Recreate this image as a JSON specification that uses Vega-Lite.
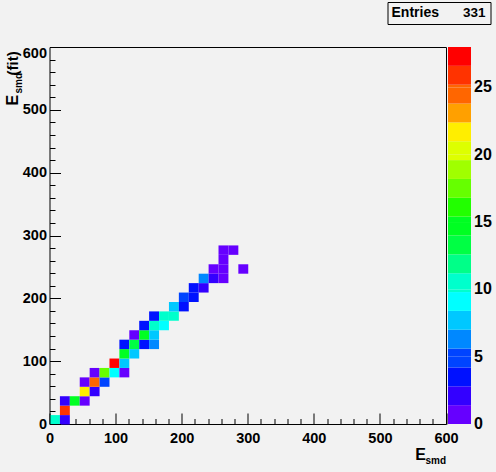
{
  "$schema": "https://vega.github.io/schema/vega-lite/v6.json",
  "width": 396.5,
  "height": 377,
  "autosize": {"type": "none"},
  "padding": {"left": 49.5, "top": 47, "right": 50, "bottom": 48},
  "background": "#f2f2f2",
  "config": {
    "view": {"stroke": "black", "strokeWidth": 1, "fill": "#f2f2f2"},
    "axis": {"labelFont": "Liberation Sans", "labelFontWeight": "bold", "labelFontSize": 14, "labelColor": "black", "titleFont": "Liberation Sans", "titleColor": "black", "titleFontWeight": "bold", "grid": false, "domain": false, "tickColor": "black"}
  },
  "data": {"values": [
    {"x0": 0, "x1": 15, "y0": 0, "y1": 15, "n": 10},
    {"x0": 15, "x1": 30, "y0": 0, "y1": 15, "n": 2},
    {"x0": 15, "x1": 30, "y0": 15, "y1": 30, "n": 26},
    {"x0": 15, "x1": 30, "y0": 30, "y1": 45, "n": 2},
    {"x0": 30, "x1": 45, "y0": 30, "y1": 45, "n": 15},
    {"x0": 45, "x1": 60, "y0": 30, "y1": 45, "n": 1},
    {"x0": 45, "x1": 60, "y0": 45, "y1": 60, "n": 21},
    {"x0": 60, "x1": 75, "y0": 45, "y1": 60, "n": 2},
    {"x0": 45, "x1": 60, "y0": 60, "y1": 75, "n": 1},
    {"x0": 60, "x1": 75, "y0": 60, "y1": 75, "n": 24},
    {"x0": 75, "x1": 90, "y0": 60, "y1": 75, "n": 5},
    {"x0": 60, "x1": 75, "y0": 75, "y1": 90, "n": 1},
    {"x0": 75, "x1": 90, "y0": 75, "y1": 90, "n": 17},
    {"x0": 90, "x1": 105, "y0": 75, "y1": 90, "n": 9},
    {"x0": 105, "x1": 120, "y0": 75, "y1": 90, "n": 1},
    {"x0": 90, "x1": 105, "y0": 90, "y1": 105, "n": 27},
    {"x0": 105, "x1": 120, "y0": 90, "y1": 105, "n": 7},
    {"x0": 105, "x1": 120, "y0": 105, "y1": 120, "n": 14},
    {"x0": 120, "x1": 135, "y0": 105, "y1": 120, "n": 7},
    {"x0": 105, "x1": 120, "y0": 120, "y1": 135, "n": 3},
    {"x0": 120, "x1": 135, "y0": 120, "y1": 135, "n": 13},
    {"x0": 135, "x1": 150, "y0": 120, "y1": 135, "n": 3},
    {"x0": 150, "x1": 165, "y0": 120, "y1": 135, "n": 6},
    {"x0": 120, "x1": 135, "y0": 135, "y1": 150, "n": 1},
    {"x0": 135, "x1": 150, "y0": 135, "y1": 150, "n": 14},
    {"x0": 150, "x1": 165, "y0": 135, "y1": 150, "n": 7},
    {"x0": 135, "x1": 150, "y0": 150, "y1": 165, "n": 3},
    {"x0": 150, "x1": 165, "y0": 150, "y1": 165, "n": 10},
    {"x0": 165, "x1": 180, "y0": 150, "y1": 165, "n": 9},
    {"x0": 150, "x1": 165, "y0": 165, "y1": 180, "n": 3},
    {"x0": 165, "x1": 180, "y0": 165, "y1": 180, "n": 10},
    {"x0": 180, "x1": 195, "y0": 165, "y1": 180, "n": 11},
    {"x0": 180, "x1": 195, "y0": 180, "y1": 195, "n": 7},
    {"x0": 195, "x1": 210, "y0": 180, "y1": 195, "n": 3},
    {"x0": 195, "x1": 210, "y0": 195, "y1": 210, "n": 5},
    {"x0": 210, "x1": 225, "y0": 195, "y1": 210, "n": 3},
    {"x0": 210, "x1": 225, "y0": 210, "y1": 225, "n": 3},
    {"x0": 225, "x1": 240, "y0": 210, "y1": 225, "n": 2},
    {"x0": 225, "x1": 240, "y0": 225, "y1": 240, "n": 6},
    {"x0": 240, "x1": 255, "y0": 225, "y1": 240, "n": 2},
    {"x0": 255, "x1": 270, "y0": 225, "y1": 240, "n": 1},
    {"x0": 240, "x1": 255, "y0": 240, "y1": 255, "n": 1},
    {"x0": 255, "x1": 270, "y0": 240, "y1": 255, "n": 1},
    {"x0": 285, "x1": 300, "y0": 240, "y1": 255, "n": 1},
    {"x0": 255, "x1": 270, "y0": 255, "y1": 270, "n": 1},
    {"x0": 255, "x1": 270, "y0": 270, "y1": 285, "n": 1},
    {"x0": 270, "x1": 285, "y0": 270, "y1": 285, "n": 1}
  ]},
  "resolve": {"axis": {"x": "independent", "y": "independent"}},
  "layer": [
    {
      "mark": {"type": "rect", "strokeWidth": 0},
      "encoding": {
        "x": {"field": "x0", "type": "quantitative", "bin": "binned", "scale": {"domain": [0, 600], "nice": false},
              "axis": {"values": [0, 100, 200, 300, 400, 500, 600], "tickSize": -11, "labelPadding": 18, "labelFontSize": 14.5, "orient": "bottom", "title": "E", "titleFontSize": 16, "titleX": 376, "titleY": 35, "titleBaseline": "alphabetic", "titleAlign": "right", "labelFlush": false}},
        "x2": {"field": "x1"},
        "y": {"field": "y0", "type": "quantitative", "bin": "binned", "scale": {"domain": [0, 600], "nice": false},
              "axis": {"values": [0, 100, 200, 300, 400, 500, 600], "tickSize": -11, "labelPadding": 14, "labelFontSize": 14.5, "orient": "left", "title": "E", "titleFontSize": 16, "titleAngle": -90, "titleX": -32, "titleY": 58, "titleAlign": "left", "titleBaseline": "alphabetic",
                       "labelOffset": {"condition": {"test": "datum.value == 600", "value": 6}, "value": 0}}},
        "y2": {"field": "y1"},
        "color": {"field": "n", "type": "quantitative",
          "scale": {"type": "quantize", "domain": [0, 28], "nice": false, "range": ["#6600ff", "#3300ff", "#0011ff", "#0044ff", "#0088ff", "#00c8ff", "#00ffff", "#00ffcc", "#00ff88", "#00ff44", "#00ff22", "#22ff00", "#66ff00", "#a0ff00", "#ddff00", "#ffee00", "#ffa000", "#ff6600", "#ff3300", "#ff0000"]},
          "legend": {"type": "gradient", "orient": "none", "legendX": 398.5, "legendY": 0, "direction": "vertical", "gradientLength": 377, "gradientThickness": 23, "gradientStrokeWidth": 0,
            "values": [-0.01, 0.001, 1.4, 2.8, 4.2, 5, 5.6, 7, 8.4, 9.8, 10, 11.2, 12.6, 14, 15, 15.4, 16.8, 18.2, 19.6, 20, 21, 22.4, 23.8, 25, 25.2, 26.6],
            "labelExpr": "datum.value > 0 && datum.value < 0.01 ? '0' : (datum.value >= 0 && datum.value % 5 == 0 ? datum.label : '')",
            "labelOverlap": false,
            "title": null, "labelFont": "Liberation Sans", "labelFontWeight": "bold", "labelFontSize": 16, "labelColor": "black", "labelOffset": 3, "padding": 0}
        }
      }
    },
    {
      "mark": {"type": "rule", "opacity": 0},
      "encoding": {
        "x": {"field": "x0", "type": "quantitative", "scale": {"domain": [0, 600], "nice": false},
              "axis": {"values": [20, 40, 60, 80, 120, 140, 160, 180, 220, 240, 260, 280, 320, 340, 360, 380, 420, 440, 460, 480, 520, 540, 560, 580], "tickSize": -5.5, "labels": false, "orient": "bottom", "title": "smd", "titleFontSize": 10, "titleX": 396, "titleY": 39, "titleAlign": "right", "titleBaseline": "alphabetic"}},
        "y": {"field": "y0", "type": "quantitative", "scale": {"domain": [0, 600], "nice": false},
              "axis": {"values": [20, 40, 60, 80, 120, 140, 160, 180, 220, 240, 260, 280, 320, 340, 360, 380, 420, 440, 460, 480, 520, 540, 560, 580], "tickSize": -5.5, "labels": false, "orient": "left", "title": "smd", "titleFontSize": 10, "titleAngle": -90, "titleX": -28, "titleY": 46, "titleAlign": "left", "titleBaseline": "alphabetic"}}
      }
    },
    {
      "mark": {"type": "rule", "opacity": 0},
      "encoding": {
        "y": {"field": "y0", "type": "quantitative", "scale": {"domain": [0, 600], "nice": false},
              "axis": {"values": [], "ticks": false, "labels": false, "orient": "left", "title": "(fit)", "titleFontSize": 15, "titleAngle": -90, "titleX": -32, "titleY": 28, "titleAlign": "left", "titleBaseline": "alphabetic"}}
      }
    },
    {
      "data": {"values": [{"entries": "331"}]},
      "mark": {"type": "point", "opacity": 0, "size": 0},
      "encoding": {
        "shape": {"field": "entries", "type": "nominal",
          "legend": {"orient": "none", "legendX": 338, "legendY": -45, "title": "Entries", "titleOrient": "left", "titleFont": "Liberation Sans", "titleFontSize": 14, "titleFontWeight": "bold", "titleColor": "black", "titlePadding": 10, "labelFont": "Liberation Sans", "labelFontSize": 13.5, "labelFontWeight": "bold", "labelColor": "black", "symbolOpacity": 0, "symbolSize": 0, "labelOffset": 0, "symbolStrokeWidth": 0, "padding": 4, "strokeColor": "black", "fillColor": "#f2f2f2", "titleBaseline": "middle", "titleLimit": 200}
        }
      }
    }
  ]
}
